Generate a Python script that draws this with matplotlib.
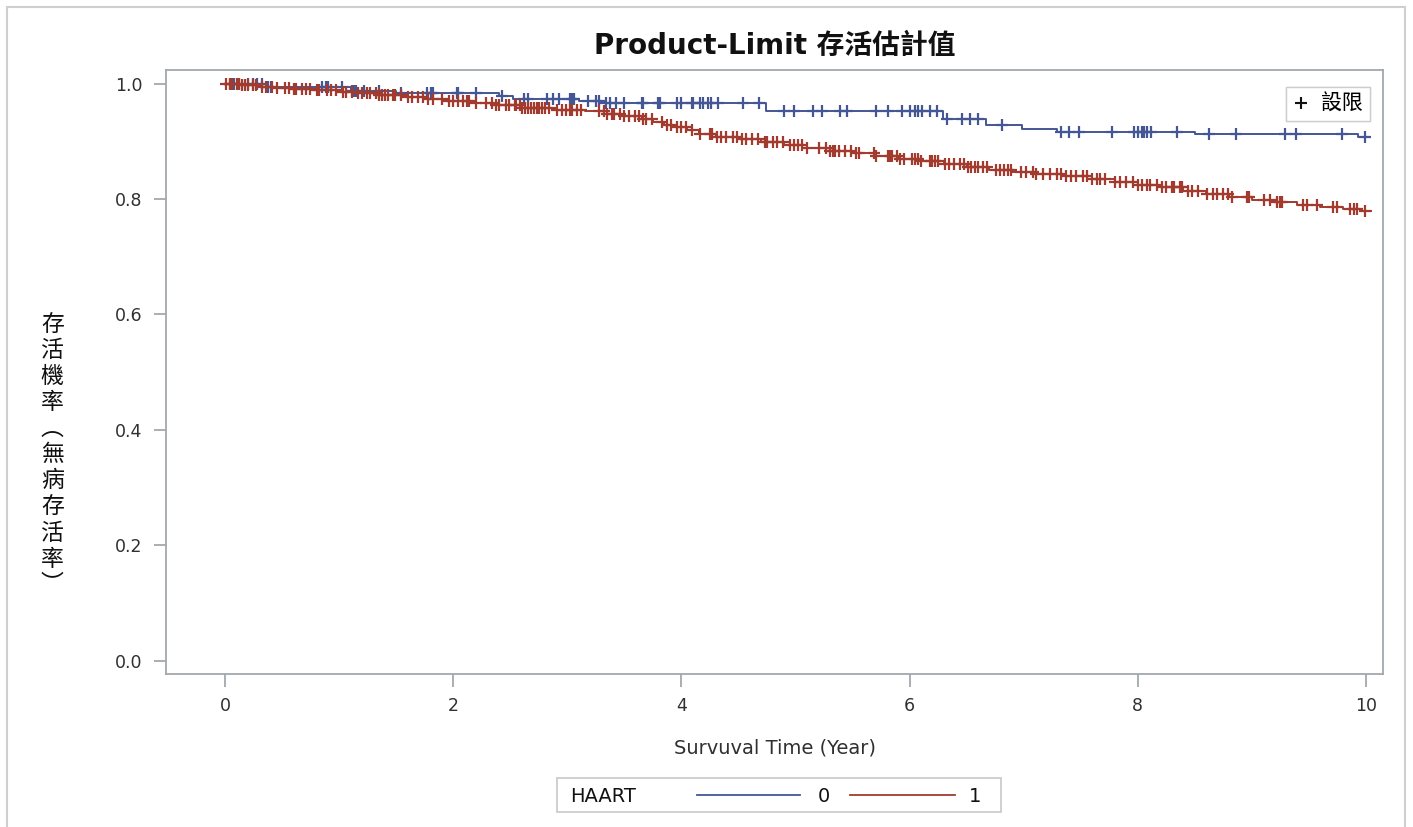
import numpy as np
import matplotlib
matplotlib.use("Agg")
import matplotlib.pyplot as plt
from matplotlib.lines import Line2D
from matplotlib.patches import Rectangle

plt.rcParams['font.family'] = ['DejaVu Sans', 'Noto Sans CJK TC']

# --- KM step data, HAART = 0 (blue) ---
t0 = [0.0, 0.36, 1.1, 1.5, 2.4, 2.52, 3.1, 3.31, 4.74, 6.29, 6.67, 6.99, 7.29, 8.5, 9.93]
s0 = [1.0, 0.994, 0.987, 0.983, 0.978, 0.973, 0.969, 0.966, 0.953, 0.939, 0.928, 0.922, 0.916, 0.913, 0.907]
end0 = 10.02
cens0 = [0.04, 0.08, 0.12, 0.2, 0.24, 0.28, 0.32, 0.37, 0.4, 0.85, 0.88, 0.9, 1.02, 1.11, 1.13,
         1.15, 1.22, 1.35, 1.54, 1.77, 1.8, 1.82, 2.03, 2.04, 2.2, 2.43, 2.62, 2.65, 2.82,
         2.87, 2.93, 3.02, 3.04, 3.06, 3.18, 3.25, 3.28, 3.34, 3.37, 3.43, 3.5, 3.65, 3.66,
         3.79, 3.81, 3.96, 4.0, 4.09, 4.1, 4.16, 4.19, 4.23, 4.26, 4.32, 4.54, 4.68, 4.9,
         4.99, 5.15, 5.23, 5.39, 5.45, 5.71, 5.81, 5.93, 6.0, 6.05, 6.07, 6.11, 6.18, 6.24,
         6.33, 6.46, 6.53, 6.6, 6.81, 7.33, 7.4, 7.49, 7.78, 7.97, 8.0, 8.04, 8.06, 8.08,
         8.12, 8.35, 8.63, 8.86, 9.29, 9.39, 9.79, 9.99]

# --- KM step data, HAART = 1 (red) ---
t1 = [0.0, 0.15, 0.3, 0.45, 0.6, 0.8, 1.0, 1.15, 1.35, 1.55, 1.75, 1.95, 2.15, 2.35, 2.6,
      2.9, 3.15, 3.35, 3.5, 3.65, 3.75, 3.85, 3.95, 4.05, 4.15, 4.3, 4.5, 4.7, 4.9, 5.1,
      5.3, 5.5, 5.7, 5.9, 6.1, 6.3, 6.5, 6.7, 6.9, 7.1, 7.35, 7.6, 7.8, 8.0, 8.2, 8.4,
      8.6, 8.8, 9.0, 9.2, 9.4, 9.6, 9.8, 9.95]
s1 = [1.0, 0.997, 0.994, 0.992, 0.99, 0.988, 0.986, 0.983, 0.98, 0.976, 0.973, 0.97, 0.967,
      0.962, 0.958, 0.955, 0.952, 0.948, 0.944, 0.939, 0.934, 0.929, 0.924, 0.919, 0.913,
      0.908, 0.904, 0.899, 0.894, 0.889, 0.884, 0.879, 0.874, 0.869, 0.865, 0.861, 0.856,
      0.851, 0.847, 0.843, 0.839, 0.835, 0.83, 0.825, 0.82, 0.814, 0.809, 0.804, 0.799,
      0.794, 0.79, 0.786, 0.782, 0.779]
end1 = 10.05
cens1 = [0.01, 0.04, 0.06, 0.1, 0.12, 0.15, 0.17, 0.2, 0.24, 0.27, 0.32, 0.36, 0.41, 0.45,
         0.52, 0.56, 0.6, 0.62, 0.67, 0.71, 0.74, 0.8, 0.82, 0.89, 0.93, 0.97, 1.03, 1.06,
         1.11, 1.16, 1.2, 1.24, 1.27, 1.32, 1.35, 1.37, 1.4, 1.43, 1.47, 1.49, 1.54, 1.6,
         1.64, 1.69, 1.73, 1.78, 1.82, 1.9, 1.96, 2.0, 2.04, 2.08, 2.12, 2.14, 2.2, 2.29,
         2.34, 2.37, 2.4, 2.46, 2.49, 2.54, 2.55, 2.58, 2.6, 2.63, 2.65, 2.68, 2.71, 2.73,
         2.75, 2.78, 2.8, 2.84, 2.91, 2.95, 2.99, 3.02, 3.04, 3.08, 3.12, 3.28, 3.32, 3.35,
         3.39, 3.41, 3.46, 3.5, 3.54, 3.59, 3.63, 3.66, 3.69, 3.74, 3.83, 3.87, 3.91, 3.96,
         4.0, 4.04, 4.09, 4.16, 4.25, 4.27, 4.31, 4.35, 4.39, 4.45, 4.49, 4.53, 4.57, 4.62,
         4.67, 4.73, 4.75, 4.8, 4.84, 4.89, 4.95, 4.99, 5.02, 5.06, 5.1, 5.21, 5.27, 5.3,
         5.33, 5.35, 5.38, 5.43, 5.49, 5.53, 5.56, 5.69, 5.71, 5.81, 5.83, 5.85, 5.89, 5.92,
         5.95, 6.02, 6.05, 6.07, 6.1, 6.18, 6.2, 6.22, 6.25, 6.31, 6.35, 6.39, 6.44, 6.48,
         6.51, 6.54, 6.57, 6.6, 6.64, 6.68, 6.76, 6.79, 6.83, 6.86, 6.89, 6.98, 7.02, 7.08,
         7.11, 7.17, 7.23, 7.29, 7.33, 7.37, 7.42, 7.46, 7.52, 7.56, 7.6, 7.64, 7.67, 7.71,
         7.8, 7.85, 7.9, 7.96, 8.0, 8.04, 8.08, 8.11, 8.17, 8.21, 8.25, 8.3, 8.32, 8.37,
         8.39, 8.44, 8.48, 8.53, 8.61, 8.66, 8.7, 8.75, 8.79, 8.83, 8.96, 8.98, 9.11, 9.16,
         9.22, 9.25, 9.27, 9.45, 9.49, 9.57, 9.71, 9.75, 9.86, 9.9, 9.92, 9.99]

groups = ['0', '1']
xticks = [0, 2, 4, 6, 8, 10]
yticks = [0.0, 0.2, 0.4, 0.6, 0.8, 1.0]

BLUE = '#445694'
RED = '#A23A2E'
GRAY = '#a3a8ad'
TXT = '#303030'


def surv_at(times, surv, c):
    idx = np.searchsorted(times, c, side='right') - 1
    return np.asarray(surv)[idx]


W, H = 1413, 827
fig = plt.figure(figsize=(W / 100, H / 100), dpi=100)
ax = fig.add_axes([0.1175, 0.1855, 0.8615, 0.7295])

# --- curves ---
for t, s, end, cens, col in [(t0, s0, end0, cens0, BLUE), (t1, s1, end1, cens1, RED)]:
    tx = list(t) + [end]
    sx = list(s) + [s[-1]]
    ax.step(tx, sx, where='post', color=col, lw=1.4, zorder=3)
    ax.plot(cens, surv_at(t, s, np.array(cens)), ls='none', marker='+', ms=9, mew=1.6,
            color=col, zorder=4)

ax.set_xlim(-0.52, 10.155)
ax.set_ylim(-0.0225, 1.023)
ax.set_xticks(xticks)
ax.set_xticklabels([str(v) for v in xticks])
ax.set_yticks(yticks)
ax.set_yticklabels([f'{v:.1f}' for v in yticks])
ax.tick_params(direction='out', length=9, width=1.3, color=GRAY, labelsize=12.5,
               labelcolor=TXT, pad=8)
for sp in ax.spines.values():
    sp.set_color(GRAY)
    sp.set_linewidth(1.3)

ax.set_title('Product-Limit 存活估計值', fontsize=20, fontweight='bold', pad=12, color='#111111')
ax.set_xlabel('Survuval Time (Year)', fontsize=14, color=TXT, labelpad=17)

# vertical stacked y label
fig.text(0.037, 0.45, '存\n活\n機\n率\n︵\n無\n病\n存\n活\n率\n︶', family=['Noto Sans CJK TC'],
         fontsize=16.5, ha='center', va='center', linespacing=1.17, color='#111111')

# censor legend (inset)
cen_leg = ax.legend(handles=[Line2D([], [], ls='none', marker='+', color='#111111', ms=9, mew=1.5)],
                    labels=['設限'], loc='upper right', fontsize=15, frameon=True,
                    handlelength=0.7, handletextpad=0.6, borderpad=0.35, fancybox=False,
                    edgecolor='#c8c8c8', bbox_to_anchor=(0.9975, 0.99))
ax.add_artist(cen_leg)

# group legend (bottom), drawn by hand in figure fractions
fx = lambda px: px / W
fy = lambda py: 1 - py / H
fig.add_artist(Rectangle((fx(557), fy(812)), fx(444), 34 / H, transform=fig.transFigure,
                         fill=False, edgecolor='#c8c8c8', lw=1.2))
fig.text(fx(570), fy(796), 'HAART', fontsize=14, color='#111111', va='center')
for (x0, x1, xl), col, lab in zip([(697, 800, 818), (850, 955, 969)], [BLUE, RED], groups):
    fig.add_artist(Line2D([fx(x0), fx(x1)], [fy(795), fy(795)], color=col, lw=1.3,
                          transform=fig.transFigure))
    fig.text(fx(xl), fy(796), lab, fontsize=14, color='#111111', va='center')

# outer frame
fig.add_artist(Rectangle((0.005, -0.05), 0.989, 1.041, transform=fig.transFigure,
                         fill=False, edgecolor='#cfcfcf', lw=1.5))

fig.savefig('out.png', dpi=100)
